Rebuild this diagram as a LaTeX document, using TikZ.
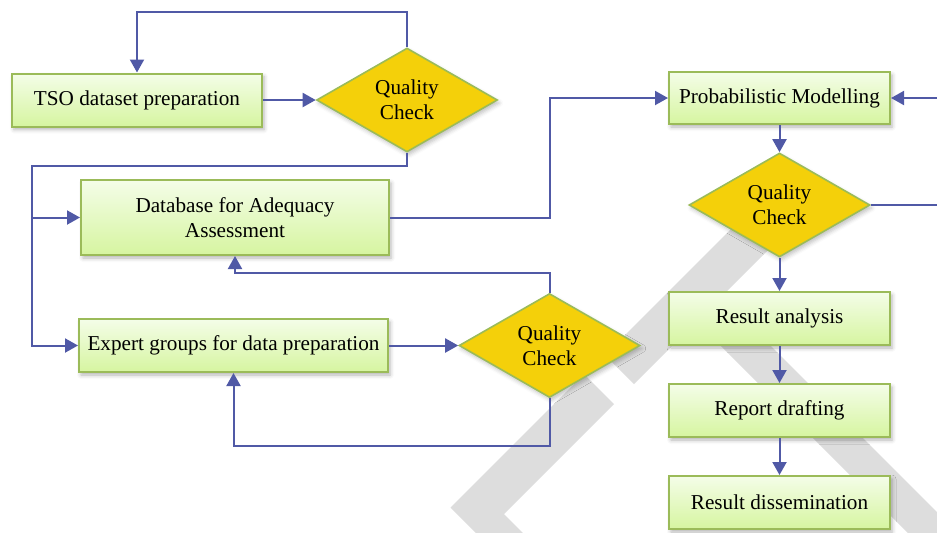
\documentclass[tikz,border=0pt]{standalone}
\usepackage{fontspec}
\setmainfont{Liberation Serif}
\usepackage{tikz}
\usetikzlibrary{shapes.geometric,arrows.meta,shadows.blur}
\definecolor{boxtop}{HTML}{F4FDE8}
\definecolor{boxbot}{HTML}{D6F5A0}
\definecolor{boxline}{HTML}{9BBB59}
\definecolor{qcfill}{HTML}{F4D00A}
\definecolor{arrowcol}{HTML}{5059A6}
\definecolor{wmgray}{HTML}{DDDDDD}

\begin{document}
\begin{tikzpicture}[x=0.5pt,y=-0.5pt,
		font=\fontsize{10.6}{12.4}\selectfont,
		box/.style={draw=boxline, line width=1pt, top color=boxtop, bottom color=boxbot,
			minimum width=110.5pt, minimum height=26.5pt, inner sep=2pt, align=center,
			blur shadow={shadow xshift=1pt, shadow yshift=-1.5pt, shadow blur radius=2pt, shadow opacity=30}},
		qc/.style={diamond, draw=boxline, line width=0.8pt, fill=qcfill,
			minimum width=90.5pt, minimum height=52pt, inner sep=0pt, align=center,
			blur shadow={shadow xshift=1pt, shadow yshift=-1.5pt, shadow blur radius=2pt, shadow opacity=25}},
		conn/.style={draw=arrowcol, line width=1pt, -{Triangle[length=6.5pt,width=7pt]}}]
			\useasboundingbox (0,0) rectangle (937,532);
			\clip (0,0) rectangle (937,532);
			\fill[wmgray] (584,374)--(614,404)--(504,514)--(560,570)--(513,570)--(450.5,507.5)--cycle;
			\fill[wmgray] (605,355)--(634,384)--(789,229)--(760,200)--cycle;
			\fill[wmgray] (697.5,322.5)--(722.5,297.5)--(1000,575)--(950,575)--cycle;
			\node[box, minimum width=125pt] (tso) at (137,100) {TSO dataset preparation};
			\node[qc] (qc1) at (407,100) {Quality\\Check};
			\node[box, minimum width=154pt, minimum height=37.5pt] (db) at (235,217.5) {Database for Adequacy\\Assessment};
			\node[box, minimum width=154.5pt] (ex) at (233.5,345.5) {Expert groups for data preparation};
			\node[qc] (qc2) at (549.5,345.5) {Quality\\Check};
			\node[box, minimum height=26pt] (pm) at (779.5,98) {Probabilistic Modelling};
			\node[qc] (qc3) at (779.5,205) {Quality\\Check};
			\node[box] (ra) at (779.5,318.5) {Result analysis};
			\node[box] (rd) at (779.5,410.5) {Report drafting};
			\node[box] (rdis) at (779.5,502.5) {Result dissemination};
			\coordinate (t1) at (407,12);
			\coordinate (b1) at (32,166);
			\coordinate (d1) at (549.5,217.5);
			\coordinate (t2) at (549.5,273);
			\coordinate (b2) at (549.5,446);
			\coordinate (r3) at (950,205);
			\draw[conn] (tso)--(qc1);
			\draw[conn] (qc1.north)--(t1)-|(tso.north);
			\draw[conn] (qc1.south)|-(b1)|-(ex.west);
			\draw[conn] (b1)|-(db.west);
			\draw[conn] (db.east)--(d1)|-(pm.west);
			\draw[conn] (ex)--(qc2);
			\draw[conn] (qc2.north)--(t2)-|(db.south);
			\draw[conn] (qc2.south)--(b2)-|(ex.south);
			\draw[conn] (pm)--(qc3);
			\draw[conn] (qc3.east)--(r3)|-(pm.east);
			\draw[conn] (qc3)--(ra);
			\draw[conn] (ra)--(rd);
			\draw[conn] (rd)--(rdis);
		\end{tikzpicture}
\end{document}
